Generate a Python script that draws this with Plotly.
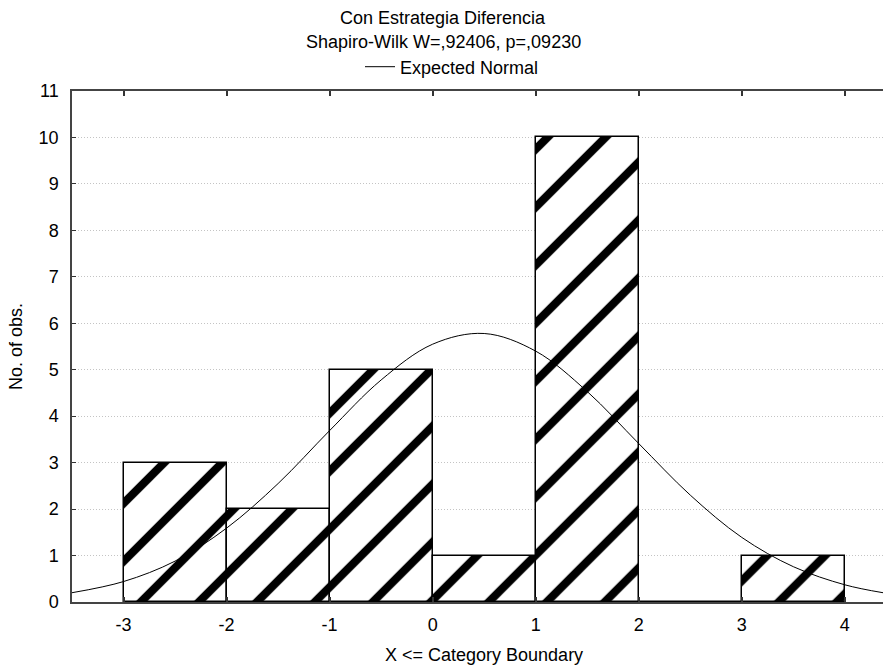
import plotly.graph_objects as go

# Histogram data (bins of width 1, labelled at their upper boundary)
bin_centers = [-2.5, -1.5, -0.5, 0.5, 1.5, 2.5, 3.5]
counts = [3, 2, 5, 1, 10, 0, 1]
boundary_ticks = [-3, -2, -1, 0, 1, 2, 3, 4]
y_ticks = list(range(0, 12))

# Expected normal curve
curve_x = [-3.5, -3.0, -2.5, -2.0, -1.5, -1.0, -0.5, 0.0, 0.5, 1.0, 1.5, 2.0,
           2.5, 3.0, 3.5, 4.0, 4.37]
curve_y = [0.20, 0.44, 0.88, 1.59, 2.55, 3.69, 4.78, 5.55, 5.78, 5.40, 4.53, 3.41,
           2.30, 1.39, 0.76, 0.37, 0.20]

title1 = "Con Estrategia Diferencia"
title2 = "Shapiro-Wilk W=,92406, p=,09230"
legend_label = "Expected Normal"
x_title = "X <= Category Boundary"
y_title = "No. of obs."

FONT = "Arial, Liberation Sans, sans-serif"
FS = 18
W, H = 883, 669
L, T, B, R = 72, 91, 67, 0
pw, ph = W - L - R, H - T - B

def px_x(p):
    return (p - L) / pw

def px_y(p):
    return (H - B - p) / ph

fig = go.Figure()
fig.add_trace(go.Bar(
    x=bin_centers, y=counts, width=1.0,
    marker=dict(color="white",
                line=dict(color="black", width=1.5),
                pattern=dict(shape="/", fgcolor="black", bgcolor="white",
                             fgopacity=1, size=41, solidity=0.2,
                             fillmode="overlay")),
    showlegend=False, hoverinfo="skip"))
fig.add_trace(go.Scatter(
    x=curve_x, y=curve_y, mode="lines", name=legend_label,
    line=dict(color="black", width=1, shape="spline", smoothing=1.0),
    showlegend=True))

fig.update_layout(
    width=W, height=H,
    margin=dict(l=L, r=R, t=T, b=B, pad=0),
    paper_bgcolor="white", plot_bgcolor="white",
    font=dict(family=FONT, size=FS, color="black"),
    bargap=0,
    showlegend=True,
    legend=dict(orientation="h", x=px_x(452), xanchor="center",
                y=px_y(67), yanchor="middle",
                font=dict(family=FONT, size=FS, color="black"),
                bgcolor="rgba(0,0,0,0)", itemwidth=30),
    xaxis=dict(range=[-3.5, 4.37], tickvals=boundary_ticks,
               ticktext=[str(v) for v in boundary_ticks],
               showgrid=False, zeroline=False,
               showline=True, linecolor="#444", linewidth=1.5,
               mirror="allticks", ticks="inside", ticklen=5,
               tickcolor="#333", tickwidth=1.5,
               ticklabelstandoff=6,
               tickfont=dict(family=FONT, size=FS, color="black")),
    yaxis=dict(range=[0, 11], tickvals=y_ticks,
               showgrid=True, gridcolor="#c4c4c4", griddash="1px,2px", gridwidth=1,
               zeroline=False,
               showline=True, linecolor="#444", linewidth=1.5,
               ticks="inside", ticklen=4, tickcolor="#333", tickwidth=1,
               ticklabelstandoff=8,
               tickfont=dict(family=FONT, size=FS, color="black"),
               title=dict(text=y_title, standoff=11,
                          font=dict(family=FONT, size=FS, color="black"))),
    annotations=[
        dict(text=title1, x=px_x(443), y=px_y(18), xref="paper", yref="paper",
             xanchor="center", yanchor="middle", showarrow=False,
             font=dict(family=FONT, size=FS, color="black")),
        dict(text=title2, x=px_x(443), y=px_y(42), xref="paper", yref="paper",
             xanchor="center", yanchor="middle", showarrow=False,
             font=dict(family=FONT, size=FS, color="black")),
        dict(text=x_title, x=px_x(484), y=px_y(655), xref="paper", yref="paper",
             xanchor="center", yanchor="middle", showarrow=False,
             font=dict(family=FONT, size=FS, color="black")),
    ],
)

fig.write_html("out.html",
               config={"displayModeBar": False},
               post_script="document.body.style.margin='0';"
                           "document.body.style.overflow='hidden';")
